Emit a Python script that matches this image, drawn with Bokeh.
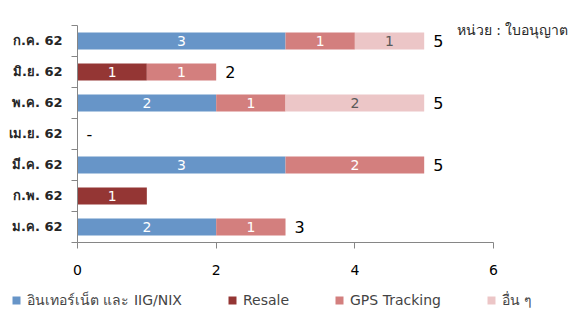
from bokeh.plotting import figure
from bokeh.layouts import column
from bokeh.models import ColumnDataSource, Range1d, FixedTicker, Legend, LegendItem, Label
from bokeh.core.properties import value
from bokeh.embed import file_html
from bokeh.resources import INLINE

categories = ["ม.ค. 62", "ก.พ. 62", "มี.ค. 62", "เม.ย. 62", "พ.ค. 62", "มิ.ย. 62", "ก.ค. 62"]
internet = [2, 0, 3, 0, 2, 0, 3]
resale = [0, 1, 0, 0, 0, 1, 0]
gps = [1, 0, 2, 0, 1, 1, 1]
other = [0, 0, 0, 0, 2, 0, 1]
total_labels = ["3", "", "5", "-", "5", "2", "5"]
series_names = ["อินเทอร์เน็ต และ IIG/NIX", "Resale", "GPS Tracking", "อื่น ๆ"]
colors = ["#6795C8", "#943634", "#D37F7E", "#ECC6C7"]
label_colors = ["white", "white", "white", "#595959"]
x_ticks = [0, 2, 4, 6]
unit_text = "หน่วย : ใบอนุญาต"

FONT = "Tahoma, 'DejaVu Sans', sans-serif"

ypos = [i + 0.5 for i in range(len(categories))]
series = [internet, resale, gps, other]

p = figure(width=570, height=284, output_backend="svg", toolbar_location=None,
           x_range=Range1d(0, 7.11), y_range=Range1d(0, 7.806),
           min_border_left=77, min_border_right=0, min_border_top=0, min_border_bottom=42)
p.outline_line_color = None
p.xgrid.visible = False
p.ygrid.visible = False

# legend strip (separate figure below the chart; its ranges keep the bars out of view)
p2 = figure(width=570, height=28, output_backend="svg", toolbar_location=None,
            x_range=Range1d(-20, -19), y_range=Range1d(100, 101),
            x_axis_location=None, y_axis_location=None, min_border=0)
p2.outline_line_color = None
p2.xgrid.visible = False
p2.ygrid.visible = False
p2.frame_align = False

left = [0] * len(categories)
leg_renderers = []
for vals, col, lc in zip(series, colors, label_colors):
    right = [l + v for l, v in zip(left, vals)]
    src = ColumnDataSource(dict(y=ypos, left=left, right=right))
    p.hbar(y="y", left="left", right="right", height=0.55, source=src,
           fill_color=col, line_color=None)
    leg_renderers.append(p2.hbar(y="y", left="left", right="right", height=0.55, source=src,
                                 fill_color=col, line_color=None))
    lx, ly, lt = [], [], []
    for i, v in enumerate(vals):
        if v > 0:
            lx.append(left[i] + v / 2)
            ly.append(ypos[i])
            lt.append(str(v))
    p.text(x=lx, y=ly, text=lt, text_align="center", text_baseline="middle",
           text_color=lc, text_font=value("DejaVu Sans"), text_font_size="14px")
    left = right

totals = left
p.text(x=totals, y=ypos, text=total_labels, x_offset=9, text_align="left",
       text_baseline="middle", text_color="black", text_font=value("DejaVu Sans"),
       text_font_size="16px")

p.add_layout(Label(x=7.08, y=6.87, text=unit_text, text_align="right",
                   text_baseline="alphabetic", text_font_size="14px",
                   text_font=FONT, text_color="#262626"))

# axes
xa = p.xaxis[0]
xa.ticker = FixedTicker(ticks=x_ticks)
xa.bounds = (0, 6)
xa.axis_line_color = "#868686"
xa.major_tick_line_color = "#868686"
xa.major_tick_in = 0
xa.major_tick_out = 6
xa.minor_tick_line_color = None
xa.major_label_text_font_size = "14px"
xa.major_label_text_color = "black"
xa.major_label_text_font = "DejaVu Sans"
xa.major_label_standoff = 16

ya = p.yaxis[0]
ya.ticker = FixedTicker(ticks=ypos, minor_ticks=list(range(0, len(categories) + 1)))
ya.bounds = (0, 7)
ya.major_label_overrides = {y: c for y, c in zip(ypos, categories)}
ya.axis_line_color = "#868686"
ya.major_tick_line_color = None
ya.major_tick_out = 0
ya.major_tick_in = 0
ya.minor_tick_line_color = "#868686"
ya.minor_tick_out = 6
ya.minor_tick_in = 0
ya.major_label_text_font_size = "13px"
ya.major_label_text_font_style = "bold"
ya.major_label_text_color = "#262626"
ya.major_label_text_font = FONT
ya.major_label_standoff = 9

legend = Legend(items=[LegendItem(label=n, renderers=[r]) for n, r in zip(series_names, leg_renderers)],
                orientation="horizontal", location=(11, 1), spacing=45,
                glyph_width=10, glyph_height=10, label_standoff=6,
                label_text_font_size="14px", label_text_font=FONT,
                background_fill_alpha=0, border_line_color=None,
                padding=0, margin=0, label_height=14)
p2.add_layout(legend, "center")

layout = column(p, p2, spacing=0)
open("out.html", "w").write(file_html(layout, INLINE))
